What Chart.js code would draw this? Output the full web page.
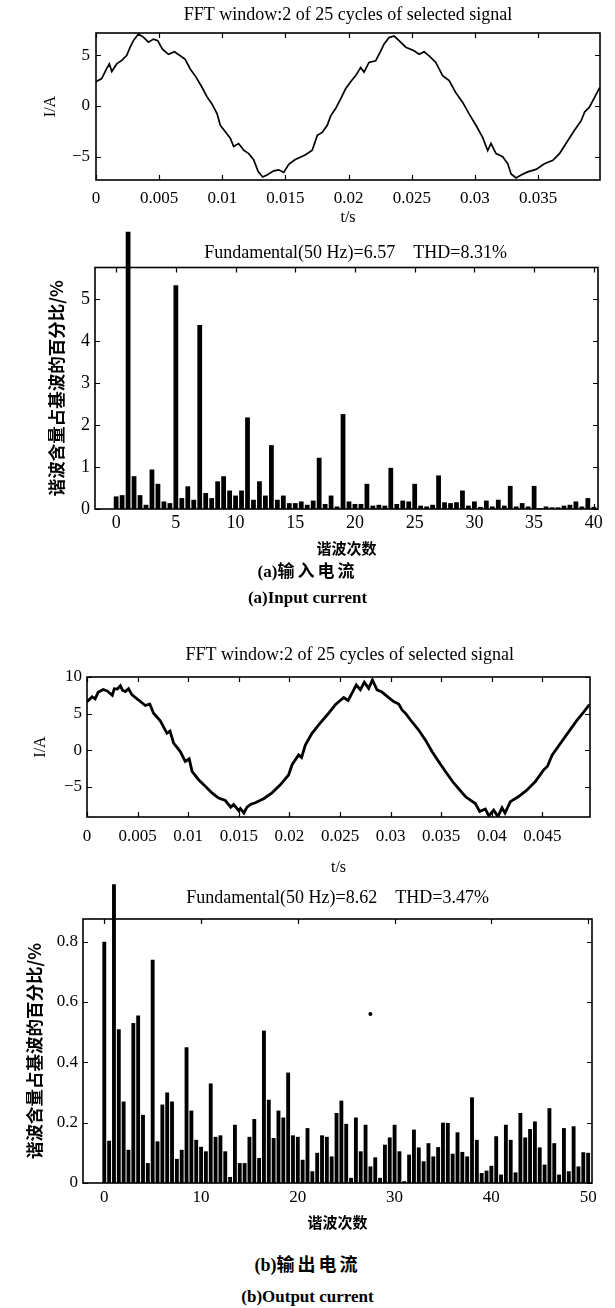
<!DOCTYPE html>
<html>
<head>
<meta charset="utf-8">
<script src="https://cdn.jsdelivr.net/npm/chart.js@4.4.1/dist/chart.umd.min.js"></script>
<style>
  body { margin: 0; background: #fff; width: 615px; height: 1308px; position: relative; overflow: hidden; }
  canvas { position: absolute; left: 0; }
  .cap { position: absolute; left: 0; width: 615px; text-align: center; line-height: 20px;
         font-family: 'Liberation Serif', 'Noto Sans CJK SC', serif; font-weight: bold; color: #000; }
  .cap span { letter-spacing: 3px; }
</style>
</head>
<body>
<canvas id="inWave" width="615" height="230" style="top:0px"></canvas>
<canvas id="inHarm" width="615" height="335" style="top:225px"></canvas>
<div class="cap" style="top:562px;font-size:17px">(a)<span>输入电流</span></div>
<div class="cap" style="top:588px;font-size:17px">(a)Input current</div>
<canvas id="outWave" width="615" height="240" style="top:640px"></canvas>
<canvas id="outHarm" width="615" height="360" style="top:875px"></canvas>
<div class="cap" style="top:1255px;font-size:18px">(b)<span>输出电流</span></div>
<div class="cap" style="top:1287px;font-size:17px">(b)Output current</div>

<script>
// 输入电流波形 (t/s, I/A)
const inTime = [0, 0.00045, 0.00085, 0.00106, 0.00125, 0.00164, 0.00204, 0.00244, 0.0027, 0.00296,
  0.00336, 0.00375, 0.00415, 0.00455, 0.00489, 0.00526, 0.00574, 0.00621, 0.00667, 0.00706,
  0.00746, 0.00792, 0.00839, 0.00879, 0.00918, 0.00958, 0.00984, 0.01024, 0.01064, 0.0109,
  0.01129, 0.01169, 0.01209, 0.01248, 0.01283, 0.01319, 0.01354, 0.01407, 0.01447, 0.01486,
  0.01526, 0.01574, 0.01659, 0.01712, 0.01752, 0.01791, 0.01831, 0.01857, 0.01897, 0.01937,
  0.01976, 0.02016, 0.02056, 0.02095, 0.02122, 0.02161, 0.02214, 0.02249, 0.0228, 0.0232,
  0.0236, 0.02399, 0.02453, 0.02518, 0.02558, 0.02598, 0.02637, 0.0269, 0.02744, 0.02796,
  0.02849, 0.02903, 0.02955, 0.03008, 0.03061, 0.03101, 0.03127, 0.03167, 0.0322, 0.0326,
  0.03286, 0.03326, 0.03365, 0.03418, 0.03484, 0.0355, 0.03617, 0.03669, 0.03736, 0.03788,
  0.03841, 0.03868, 0.03907, 0.03947, 0.03987];
const inCurrent = [2.4, 2.7, 3.7, 4.15, 3.4, 4.15, 4.5, 5.0, 5.8, 6.45,
  7.1, 6.8, 6.3, 6.6, 6.45, 5.6, 5.1, 5.35, 4.95, 4.6,
  3.65, 2.85, 1.85, 0.9, 0.2, -0.75, -1.9, -2.55, -3.2, -4.0,
  -3.7, -4.35, -4.7, -5.3, -6.45, -7.0, -6.8, -6.4, -6.3, -6.55,
  -5.75, -5.3, -4.8, -4.35, -2.9, -2.6, -1.9, -1.0, -0.25, 0.7,
  1.7, 2.4, 3.0, 3.8, 3.35, 4.3, 4.45, 5.3, 6.1, 6.75,
  6.9, 6.45, 5.8, 5.45, 5.1, 5.35, 4.95, 4.3, 3.0, 2.5,
  1.3, 0.35, -0.8, -1.9, -3.1, -4.4, -3.7, -4.7, -5.0, -5.7,
  -6.7, -7.1, -6.8, -6.5, -6.25, -5.7, -5.35, -4.7, -3.4, -2.4,
  -1.45, -0.6, -0.1, 0.85, 1.8];

// 输入电流谐波次数与含量 (%)
const inOrders = [0, 0.5, 1, 1.5, 2, 2.5, 3, 3.5, 4, 4.5, 5, 5.5, 6, 6.5, 7, 7.5, 8, 8.5, 9, 9.5,
  10, 10.5, 11, 11.5, 12, 12.5, 13, 13.5, 14, 14.5, 15, 15.5, 16, 16.5, 17, 17.5, 18, 18.5, 19, 19.5,
  20, 20.5, 21, 21.5, 22, 22.5, 23, 23.5, 24, 24.5, 25, 25.5, 26, 26.5, 27, 27.5, 28, 28.5, 29, 29.5,
  30, 30.5, 31, 31.5, 32, 32.5, 33, 33.5, 34, 34.5, 35, 35.5, 36, 36.5, 37, 37.5, 38, 38.5, 39, 39.5, 40];
const inHarm = [0.3, 0.33, 6.6, 0.78, 0.33, 0.1, 0.94, 0.6, 0.18, 0.14, 5.33, 0.26, 0.54, 0.22, 4.38, 0.38, 0.26, 0.66, 0.78, 0.44,
  0.32, 0.44, 2.18, 0.22, 0.66, 0.32, 1.52, 0.22, 0.32, 0.14, 0.14, 0.18, 0.1, 0.2, 1.22, 0.12, 0.32, 0.06, 2.26, 0.18,
  0.12, 0.12, 0.6, 0.08, 0.1, 0.08, 0.98, 0.12, 0.2, 0.18, 0.6, 0.08, 0.06, 0.1, 0.8, 0.16, 0.14, 0.16, 0.44, 0.08,
  0.18, 0.05, 0.2, 0.06, 0.22, 0.08, 0.55, 0.06, 0.14, 0.06, 0.55, 0.02, 0.06, 0.04, 0.04, 0.08, 0.1, 0.18, 0.06, 0.26, 0.05];

// 输出电流波形 (t/s, I/A)
const outTime = [0, 0.0005, 0.0008, 0.0011, 0.0016, 0.002, 0.0025, 0.0027, 0.003, 0.0033, 0.0035,
  0.0038, 0.0041, 0.00445, 0.0051, 0.00576, 0.0062, 0.00658, 0.00724, 0.0079, 0.0082, 0.00856, 0.00922,
  0.00971, 0.0101, 0.01038, 0.01103, 0.01169, 0.01235, 0.013, 0.01367, 0.0142, 0.01449, 0.015,
  0.01515, 0.0155, 0.01581, 0.0162, 0.01663, 0.01745, 0.01828, 0.0191, 0.01992, 0.02026,
  0.02091, 0.0212, 0.02157, 0.02223, 0.02289, 0.02372, 0.02454, 0.02536, 0.0258, 0.02619, 0.0266,
  0.02701, 0.0274, 0.02783, 0.0282, 0.02866, 0.0291, 0.02948, 0.0303, 0.0308, 0.03113,
  0.0315, 0.03195, 0.03277, 0.03343, 0.03409, 0.03474, 0.0354, 0.03623, 0.03738, 0.03837,
  0.0388, 0.03936, 0.0397, 0.04018, 0.0406, 0.04101, 0.0413, 0.04183, 0.04265, 0.04348,
  0.0443, 0.04512, 0.0455, 0.04595, 0.04677, 0.04759, 0.04842, 0.04907, 0.04957, 0.0497];
const outCurrent = [6.6, 7.3, 7.0, 7.9, 8.3, 8.1, 7.5, 8.4, 8.35, 8.8, 8.2,
  8.0, 8.4, 7.55, 6.85, 6.1, 6.3, 5.05, 4.0, 2.3, 2.6, 0.95, -0.2,
  -1.55, -1.2, -2.9, -4.05, -4.95, -5.85, -6.55, -6.9, -7.8, -7.45, -8.3,
  -8.0, -8.6, -7.8, -7.4, -7.2, -6.65, -5.85, -4.75, -3.4, -2.0,
  -0.65, -1.0, 0.7, 2.3, 3.45, 4.8, 6.2, 7.2, 6.8, 7.8, 8.9,
  8.25, 9.3, 8.45, 9.6, 8.25, 8.0, 7.55, 6.65, 6.3, 5.5,
  5.0, 4.15, 2.75, 1.4, -0.2, -1.55, -2.9, -4.5, -6.35, -7.3,
  -8.4, -8.05, -9.0, -8.2, -9.1, -7.9, -8.6, -7.05, -6.35, -5.45,
  -4.3, -2.7, -2.2, -0.7, 0.9, 2.5, 4.1, 5.2, 6.1, 6.2];

// 输出电流谐波次数与含量 (%)
const outOrders = [0, 0.5, 1, 1.5, 2, 2.5, 3, 3.5, 4, 4.5, 5, 5.5, 6, 6.5, 7, 7.5, 8, 8.5, 9, 9.5,
  10, 10.5, 11, 11.5, 12, 12.5, 13, 13.5, 14, 14.5, 15, 15.5, 16, 16.5, 17, 17.5, 18, 18.5, 19, 19.5,
  20, 20.5, 21, 21.5, 22, 22.5, 23, 23.5, 24, 24.5, 25, 25.5, 26, 26.5, 27, 27.5, 28, 28.5, 29, 29.5,
  30, 30.5, 31, 31.5, 32, 32.5, 33, 33.5, 34, 34.5, 35, 35.5, 36, 36.5, 37, 37.5, 38, 38.5, 39, 39.5,
  40, 40.5, 41, 41.5, 42, 42.5, 43, 43.5, 44, 44.5, 45, 45.5, 46, 46.5, 47, 47.5, 48, 48.5, 49, 49.5, 50];
const outHarm = [0.8, 0.14, 0.99, 0.51, 0.27, 0.11, 0.53, 0.555, 0.226, 0.066, 0.74, 0.138, 0.26, 0.3, 0.27, 0.08, 0.11, 0.45, 0.24, 0.143,
  0.12, 0.105, 0.33, 0.153, 0.158, 0.105, 0.02, 0.193, 0.066, 0.066, 0.153, 0.212, 0.083, 0.505, 0.276, 0.149, 0.24, 0.217, 0.366, 0.158,
  0.153, 0.077, 0.182, 0.039, 0.1, 0.158, 0.153, 0.088, 0.232, 0.273, 0.196, 0.017, 0.217, 0.105, 0.193, 0.055, 0.085, 0.017, 0.127, 0.151,
  0.193, 0.105, 0.006, 0.094, 0.177, 0.118, 0.072, 0.132, 0.088, 0.119, 0.2, 0.199, 0.097, 0.168, 0.103, 0.088, 0.284, 0.143, 0.033, 0.041,
  0.057, 0.155, 0.028, 0.193, 0.143, 0.035, 0.232, 0.151, 0.179, 0.204, 0.118, 0.061, 0.248, 0.132, 0.028, 0.182, 0.039, 0.188, 0.055, 0.102, 0.1];
// 图中的小黑点
const speckOrder = [27.5];
const speckValue = [0.56];

const SERIF = "'Liberation Serif', 'Noto Sans CJK SC', serif";
const CJK = "'Noto Sans CJK SC', sans-serif";

// 边框 + 向内的刻度线 (MATLAB 风格)
const framePlugin = {
  id: 'frame',
  afterDatasetsDraw(chart) {
    const { ctx, chartArea: a, scales: { x, y } } = chart;
    ctx.save();
    ctx.strokeStyle = '#000';
    ctx.lineWidth = 1.6;
    ctx.strokeRect(a.left, a.top, a.right - a.left, a.bottom - a.top);
    ctx.lineWidth = 1.2;
    ctx.beginPath();
    x.ticks.forEach(t => {
      const px = Math.round(x.getPixelForValue(t.value)) + 0.5;
      ctx.moveTo(px, a.bottom); ctx.lineTo(px, a.bottom - 5);
      ctx.moveTo(px, a.top); ctx.lineTo(px, a.top + 5);
    });
    y.ticks.forEach(t => {
      const py = Math.round(y.getPixelForValue(t.value)) + 0.5;
      ctx.moveTo(a.left, py); ctx.lineTo(a.left + 5, py);
      ctx.moveTo(a.right, py); ctx.lineTo(a.right - 5, py);
    });
    ctx.stroke();
    ctx.restore();
  }
};

function tickText(v) {
  return v < 0 ? '\u2212' + (-v) : '' + v;
}

function makeOptions(o) {
  return {
    responsive: false,
    animation: false,
    layout: { padding: { left: 0, right: o.padRight, top: 0, bottom: 0 } },
    plugins: {
      legend: { display: false },
      tooltip: { enabled: false },
      title: {
        display: true, text: o.title, fullSize: false, color: '#000',
        font: { family: SERIF, size: 18, weight: 'normal', lineHeight: 1.2 },
        padding: { top: o.titleTop, bottom: o.titleBottom }
      }
    },
    scales: {
      x: {
        type: 'linear', min: o.xMin, max: o.xMax, offset: false,
        grid: { display: false, drawTicks: false }, border: { display: false },
        ticks: { stepSize: o.xStep, includeBounds: false, padding: o.xTickPad, color: '#000',
                 maxRotation: 0, autoSkip: false,
                 font: { family: SERIF, size: o.tickSize, lineHeight: 1.2 }, callback: tickText },
        title: { display: true, text: o.xTitle, color: '#000',
                 font: { family: o.xTitleFont, size: o.xTitleSize, weight: o.xTitleWeight, lineHeight: 1.2 },
                 padding: { top: 0, bottom: o.xTitlePad } },
        afterFit: s => { s.height = o.xHeight; }
      },
      y: {
        min: o.yMin, max: o.yMax,
        grid: { display: false, drawTicks: false }, border: { display: false },
        ticks: { stepSize: o.yStep, includeBounds: false, padding: o.yTickPad, color: '#000',
                 autoSkip: false,
                 font: { family: SERIF, size: o.tickSize, lineHeight: 1.2 }, callback: tickText },
        title: { display: true, text: o.yTitle, color: '#000',
                 font: { family: o.yTitleFont, size: o.yTitleSize, weight: o.yTitleWeight, lineHeight: 1.2 },
                 padding: { top: o.yTitlePad, bottom: 0 } },
        afterFit: s => { s.width = o.yWidth; }
      }
    }
  };
}

function points(xs, ys) {
  return xs.map((x, i) => ({ x: x, y: ys[i] }));
}

// (a) 输入电流波形
new Chart(document.getElementById('inWave'), {
  type: 'line',
  data: { datasets: [{ data: points(inTime, inCurrent), borderColor: '#000', borderWidth: 1.7,
                       pointRadius: 0, tension: 0 }] },
  options: makeOptions({
    title: 'FFT window:2 of 25 cycles of selected signal', titleTop: 4.2, titleBottom: 7.2, padRight: 15,
    xMin: 0, xMax: 0.0399, xStep: 0.005, xTickPad: 8, xHeight: 50,
    xTitle: 't/s', xTitleFont: SERIF, xTitleSize: 16, xTitleWeight: 'normal', xTitlePad: 3,
    yMin: -7.3, yMax: 7.2, yStep: 5, yTickPad: 6, yWidth: 96,
    yTitle: 'I/A', yTitleFont: SERIF, yTitleSize: 16, yTitleWeight: 'normal', yTitlePad: 41,
    tickSize: 17
  }),
  plugins: [framePlugin]
});

// (a) 输入电流频谱
new Chart(document.getElementById('inHarm'), {
  type: 'bar',
  data: { datasets: [{ data: points(inOrders, inHarm), backgroundColor: '#000', borderWidth: 0,
                       barPercentage: 0.8, categoryPercentage: 1, clip: false }] },
  options: makeOptions({
    title: '    Fundamental(50 Hz)=6.57    THD=8.31%', titleTop: 17.2, titleBottom: 3.7, padRight: 17,
    xMin: -1.77, xMax: 40.35, xStep: 5, xTickPad: 3, xHeight: 51,
    xTitle: '谐波次数', xTitleFont: CJK, xTitleSize: 15, xTitleWeight: 'bold', xTitlePad: 3,
    yMin: 0, yMax: 5.75, yStep: 1, yTickPad: 5, yWidth: 95,
    yTitle: '谐波含量占基波的百分比/%', yTitleFont: CJK, yTitleSize: 17.5, yTitleWeight: 'bold', yTitlePad: 46,
    tickSize: 18
  }),
  plugins: [framePlugin]
});

// (b) 输出电流波形
new Chart(document.getElementById('outWave'), {
  type: 'line',
  data: { datasets: [{ data: points(outTime, outCurrent), borderColor: '#000', borderWidth: 2.8,
                       pointRadius: 0, tension: 0 }] },
  options: makeOptions({
    title: '     FFT window:2 of 25 cycles of selected signal', titleTop: 4.2, titleBottom: 11.2, padRight: 25,
    xMin: 0, xMax: 0.0497, xStep: 0.005, xTickPad: 9, xHeight: 63,
    xTitle: 't/s', xTitleFont: SERIF, xTitleSize: 16, xTitleWeight: 'normal', xTitlePad: 3,
    yMin: -9.15, yMax: 10, yStep: 5, yTickPad: 5, yWidth: 87,
    yTitle: 'I/A', yTitleFont: SERIF, yTitleSize: 16, yTitleWeight: 'normal', yTitlePad: 31,
    tickSize: 17
  }),
  plugins: [framePlugin]
});

// (b) 输出电流频谱
new Chart(document.getElementById('outHarm'), {
  type: 'bar',
  data: { datasets: [
    { data: points(outOrders, outHarm), backgroundColor: '#000', borderWidth: 0,
      barPercentage: 0.8, categoryPercentage: 1, clip: false },
    { type: 'scatter', data: points(speckOrder, speckValue), backgroundColor: '#000',
      borderWidth: 0, pointRadius: 2 }
  ] },
  options: makeOptions({
    title: 'Fundamental(50 Hz)=8.62    THD=3.47%', titleTop: 12.2, titleBottom: 10.2, padRight: 23,
    xMin: -2.2, xMax: 50.4, xStep: 10, xTickPad: 4.8, xHeight: 52,
    xTitle: '谐波次数', xTitleFont: CJK, xTitleSize: 15, xTitleWeight: 'bold', xTitlePad: 4,
    yMin: 0, yMax: 0.875, yStep: 0.2, yTickPad: 5, yWidth: 83,
    yTitle: '谐波含量占基波的百分比/%', yTitleFont: CJK, yTitleSize: 17.5, yTitleWeight: 'bold', yTitlePad: 24,
    tickSize: 17
  }),
  plugins: [framePlugin]
});
</script>
</body>
</html>
